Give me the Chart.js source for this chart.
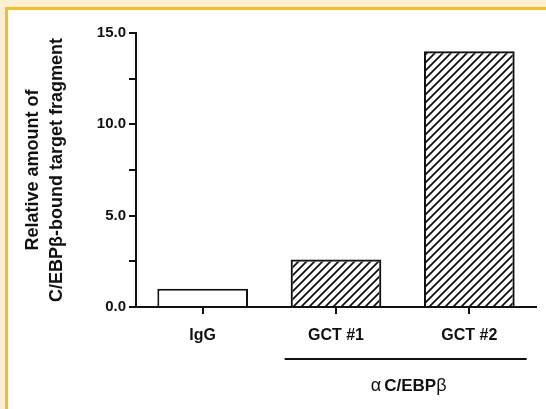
<!DOCTYPE html>
<html>
<head>
<meta charset="utf-8">
<script src="https://cdn.jsdelivr.net/npm/chart.js@4"></script>
<style>
  html, body { margin: 0; padding: 0; }
  body { width: 546px; height: 409px; background: #fdf0d2; position: relative; overflow: hidden; }
  #frame {
    position: absolute; left: 5px; top: 7px; right: 0; bottom: 0;
    border-top: 3px solid #f4be2a; border-left: 3px solid #f4be2a;
    background: #ffffff;
  }
  #chart { position: absolute; left: 0; top: 0; }
</style>
</head>
<body>
<div id="frame"></div>
<canvas id="chart" width="546" height="409"></canvas>
<script>
// data
const categories = ["IgG", "GCT #1", "GCT #2"];
const values = [1.0, 2.6, 14.0];
const hatched = [false, true, true];
const yTicks = [0, 2.5, 5, 7.5, 10, 12.5, 15];
const yLabels = ["0.0", "", "5.0", "", "10.0", "", "15.0"];
const yTitle = ["Relative amount of", "C/EBP\u03b2-bound target fragment"];
const groupMembers = ["GCT #1", "GCT #2"];

const FONT = "'Liberation Sans', Arial, sans-serif";

// diagonal hatch pattern
function makeHatch() {
  const c = document.createElement("canvas");
  c.width = 8;
  c.height = 8;
  const g = c.getContext("2d");
  g.strokeStyle = "#111";
  g.lineWidth = 1.8;
  g.beginPath();
  g.moveTo(0, 8); g.lineTo(8, 0);
  g.moveTo(-4, 4); g.lineTo(4, -4);
  g.moveTo(4, 12); g.lineTo(12, 4);
  g.stroke();
  return document.getElementById("chart").getContext("2d").createPattern(c, "repeat");
}
const hatch = makeHatch();

// bracket line + group label under GCT bars
const groupLabel = {
  id: "groupLabel",
  afterDraw(chart) {
    const x = chart.scales.x;
    const ctx = chart.ctx;
    const w = x.getPixelForValue(1) - x.getPixelForValue(0);
    const a = x.getPixelForValue(categories.indexOf(groupMembers[0])) - 0.385 * w;
    const b = x.getPixelForValue(categories.indexOf(groupMembers[1])) + 0.43 * w;
    const yLine = x.bottom - 50;
    ctx.save();
    ctx.strokeStyle = "#111";
    ctx.lineWidth = 2;
    ctx.beginPath();
    ctx.moveTo(a, yLine);
    ctx.lineTo(b, yLine);
    ctx.stroke();

    // "αC/EBPβ" with symbol letters in regular weight
    const parts = [
      ["\u03b1", "18px " + FONT, 3],
      ["C/EBP", "bold 17px " + FONT, 0],
      ["\u03b2", "18px " + FONT, 0]
    ];
    let total = 0;
    parts.forEach((p) => { ctx.font = p[1]; total += ctx.measureText(p[0]).width + p[2]; });
    let cx = (a + b) / 2 - total / 2 + 3;
    ctx.fillStyle = "#111";
    ctx.textBaseline = "middle";
    ctx.textAlign = "left";
    parts.forEach((p) => {
      ctx.font = p[1];
      ctx.fillText(p[0], cx, yLine + 27);
      cx += ctx.measureText(p[0]).width + p[2];
    });
    ctx.restore();
  }
};

new Chart(document.getElementById("chart"), {
  type: "bar",
  data: {
    labels: categories,
    datasets: [{
      data: values,
      backgroundColor: hatched.map((h) => (h ? hatch : "#ffffff")),
      borderColor: "#111",
      borderWidth: 2,
      categoryPercentage: 1,
      barPercentage: 0.68
    }]
  },
  options: {
    responsive: false,
    animation: false,
    layout: { padding: { left: 0, right: 10, top: 33, bottom: 0 } },
    plugins: { legend: { display: false }, tooltip: { enabled: false } },
    scales: {
      x: {
        afterFit: (s) => { s.height = 102; },
        grid: { display: true, drawOnChartArea: false, offset: false, color: "#111", lineWidth: 2, tickLength: 7 },
        border: { display: true, color: "#111", width: 2 },
        ticks: { color: "#111", padding: 12, font: { family: FONT, size: 16, weight: "bold" } }
      },
      y: {
        min: 0,
        max: 15,
        afterFit: (s) => { s.width = 136; },
        afterBuildTicks: (s) => { s.ticks = yTicks.map((v) => ({ value: v })); },
        grid: { display: true, drawOnChartArea: false, color: "#111", lineWidth: 2, tickLength: 7 },
        border: { display: true, color: "#111", width: 2 },
        ticks: {
          color: "#111",
          padding: 3,
          font: { family: FONT, size: 15, weight: "bold" },
          callback: (v) => yLabels[yTicks.indexOf(v)]
        },
        title: {
          display: true,
          text: yTitle,
          color: "#111",
          padding: { top: 22, bottom: 0 },
          font: { family: FONT, size: 18, weight: "bold", lineHeight: 1.28 }
        }
      }
    }
  },
  plugins: [groupLabel]
});
</script>
</body>
</html>
